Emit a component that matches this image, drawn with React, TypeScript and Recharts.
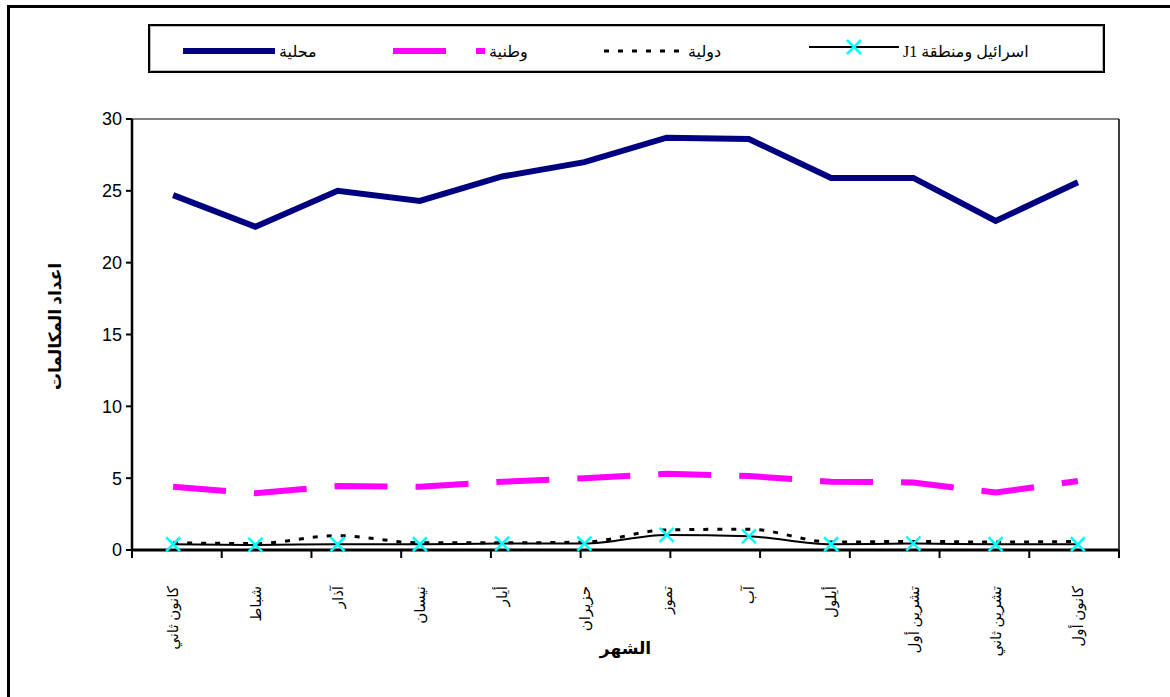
import React from 'react';
import { ComposedChart, Line, XAxis, YAxis, Legend, ReferenceLine } from 'recharts';

const months = ['كانون ثاني', 'شباط', 'آذار', 'نيسان', 'أيار', 'حزيران', 'تموز', 'آب', 'أيلول', 'تشرين أول', 'تشرين ثاني', 'كانون أول'];
const local = [24.7, 22.5, 25.0, 24.3, 26.0, 27.0, 28.7, 28.6, 25.9, 25.9, 22.9, 25.6];
const national = [4.4, 3.95, 4.45, 4.4, 4.75, 5.0, 5.3, 5.15, 4.75, 4.7, 4.0, 4.8];
const international = [0.5, 0.45, 1.0, 0.5, 0.5, 0.55, 1.4, 1.45, 0.55, 0.6, 0.55, 0.6];
const israel = [0.4, 0.35, 0.4, 0.4, 0.45, 0.45, 1.05, 0.95, 0.4, 0.45, 0.4, 0.4];
const yTicks = [0, 5, 10, 15, 20, 25, 30];

const seriesKeys = ['local', 'national', 'international', 'israel'];
const legendLeft = [33, 243, 454, 659];

const data = months.map((m, i) => ({
  month: m,
  local: local[i],
  national: national[i],
  international: international[i],
  israel: israel[i],
}));

// boundaries between the month bands, for the tick marks
const edgeTicks = months.map((_, i) => i).concat(months.length);

const serif = "'Liberation Serif', 'DejaVu Sans', serif";
const sans = "'Liberation Sans', Arial, sans-serif";

const XMarker = (props: any) => {
  const { cx, cy } = props;
  if (cx == null || cy == null) return null;
  const s = 7;
  return (
    <g>
      <line x1={cx - s} y1={cy - s} x2={cx + s} y2={cy + s} stroke="#00FFFF" strokeWidth={2.5} />
      <line x1={cx - s} y1={cy + s} x2={cx + s} y2={cy - s} stroke="#00FFFF" strokeWidth={2.5} />
    </g>
  );
};

const MonthTick = (props: any) => {
  const { x, y, payload } = props;
  return (
    <g transform={`translate(${x},${y})`}>
      <text
        x={-27}
        y={0}
        dy="0.35em"
        transform="rotate(-90)"
        textAnchor="end"
        fontSize={15}
        fontFamily={serif}
        fill="#000"
      >
        {payload.value}
      </text>
    </g>
  );
};

const YLabel = (props: any) => {
  const vb = props.viewBox || { x: 0, y: 119, height: 431 };
  const cy = vb.y + vb.height / 2 - 8;
  return (
    <text
      x={55}
      y={cy}
      transform={`rotate(-90, 55, ${cy})`}
      textAnchor="middle"
      dominantBaseline="central"
      fontSize={17}
      fontWeight="bold"
      fontFamily={serif}
      fill="#000"
    >
      اعداد المكالمات
    </text>
  );
};

const LegendIcon = ({ id }: { id: string }) => {
  if (id === 'local')
    return (
      <svg width={92} height={10}>
        <line x1={0} y1={5} x2={92} y2={5} stroke="#000080" strokeWidth={6} />
      </svg>
    );
  if (id === 'national')
    return (
      <svg width={92} height={10}>
        <line x1={0} y1={5} x2={92} y2={5} stroke="#FF00FF" strokeWidth={6} strokeDasharray="53 30" />
      </svg>
    );
  if (id === 'international')
    return (
      <svg width={80} height={10}>
        <line x1={0} y1={5} x2={80} y2={5} stroke="#000" strokeWidth={3} strokeDasharray="5 9" />
      </svg>
    );
  return (
    <svg width={90} height={16}>
      <line x1={0} y1={8} x2={90} y2={8} stroke="#000" strokeWidth={2} />
      <XMarker cx={45} cy={8} />
    </svg>
  );
};

const renderLegend = (props: any) => {
  const { payload } = props;
  return (
    <div
      style={{
        boxSizing: 'border-box',
        width: 957,
        height: 49,
        border: '2px solid #000',
        boxShadow: 'inset 0 0 0 1px #bbb',
        position: 'relative',
        background: '#fff',
      }}
    >
      {(payload || []).map((entry: any) => {
        const idx = seriesKeys.indexOf(entry.dataKey);
        return (
          <div
            key={entry.dataKey}
            style={{
              position: 'absolute',
              left: legendLeft[idx],
              top: 10,
              display: 'flex',
              alignItems: 'flex-start',
            }}
          >
            <div style={{ marginTop: entry.dataKey === 'israel' ? 3 : 6 }}>
              <LegendIcon id={entry.dataKey} />
            </div>
            <span
              dir="rtl"
              style={{
                marginLeft: 4,
                marginTop: 6,
                fontFamily: serif,
                fontSize: 16,
                color: '#000',
                whiteSpace: 'nowrap',
              }}
            >
              {entry.value}
            </span>
          </div>
        );
      })}
    </div>
  );
};

export default function App() {
  return (
    <div style={{ position: 'absolute', left: 0, top: 0, width: 1170, height: 697, background: '#fff', overflow: 'hidden' }}>
      <div
        style={{
          position: 'absolute',
          left: 7,
          top: 5,
          width: 1200,
          height: 720,
          borderTop: '3px solid #000',
          borderLeft: '3px solid #000',
        }}
      />
      <div style={{ position: 'absolute', left: 0, top: 0 }}>
        <ComposedChart width={1170} height={697} data={data} margin={{ top: 119, right: 51, bottom: 0, left: 0 }}>
          <XAxis
            xAxisId="edges"
            type="number"
            domain={[0, months.length]}
            ticks={edgeTicks}
            tick={() => <g />}
            tickSize={8}
            height={1}
            allowDataOverflow
            axisLine={{ stroke: '#000', strokeWidth: 3 }}
            tickLine={{ stroke: '#000', strokeWidth: 2 }}
          />
          <XAxis
            xAxisId="labels"
            dataKey="month"
            scale="band"
            height={146}
            interval={0}
            axisLine={false}
            tickLine={false}
            tick={<MonthTick />}
            label={{
              value: 'الشهر',
              position: 'insideBottom',
              offset: 43,
              style: { fontSize: 17, fontWeight: 'bold', fontFamily: serif, fill: '#000' },
            }}
          />
          <YAxis
            domain={[0, 30]}
            ticks={yTicks}
            width={132}
            tickSize={6}
            tickMargin={4}
            interval={0}
            axisLine={{ stroke: '#000', strokeWidth: 2.5 }}
            tickLine={{ stroke: '#000', strokeWidth: 2 }}
            tick={{ fontSize: 18, fill: '#000', fontFamily: sans }}
            label={<YLabel />}
          />
          <ReferenceLine xAxisId="labels" y={30} stroke="#808080" strokeWidth={2} />
          <ReferenceLine
            xAxisId="labels"
            x={months[months.length - 1]}
            position="end"
            stroke="#000"
            strokeWidth={1.5}
            ifOverflow="visible"
          />
          <Legend
            content={renderLegend}
            layout="vertical"
            align="center"
            verticalAlign="middle"
            wrapperStyle={{ top: 24, left: 148, width: 957, height: 49 }}
          />
          <Line
            xAxisId="labels"
            dataKey="local"
            name="محلية"
            type="linear"
            stroke="#000080"
            strokeWidth={6}
            dot={false}
            isAnimationActive={false}
          />
          <Line
            xAxisId="labels"
            dataKey="national"
            name="وطنية"
            type="linear"
            stroke="#FF00FF"
            strokeWidth={6}
            strokeDasharray="53 28"
            dot={false}
            isAnimationActive={false}
          />
          <Line
            xAxisId="labels"
            dataKey="international"
            name="دولية"
            type="monotone"
            stroke="#000"
            strokeWidth={3}
            strokeDasharray="5 9"
            dot={false}
            isAnimationActive={false}
          />
          <Line
            xAxisId="labels"
            dataKey="israel"
            name="اسرائيل ومنطقة  J1"
            type="monotone"
            stroke="#000"
            strokeWidth={2}
            dot={<XMarker />}
            isAnimationActive={false}
          />
        </ComposedChart>
      </div>
    </div>
  );
}
